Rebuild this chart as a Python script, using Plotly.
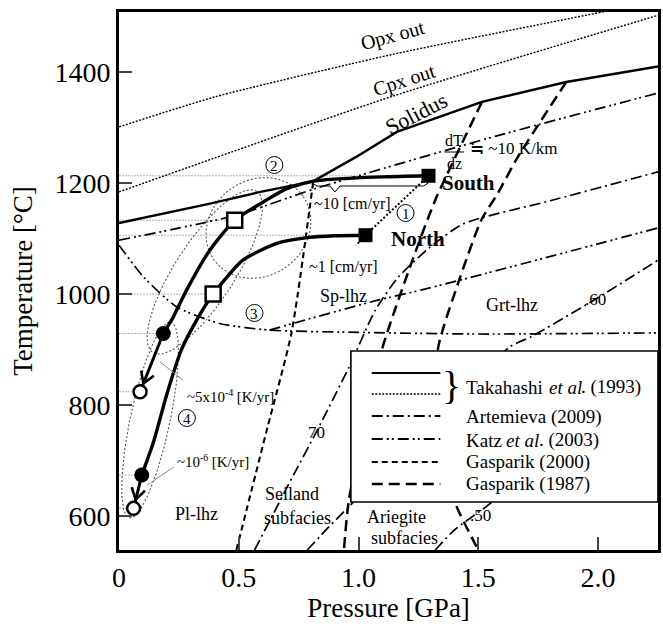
import numpy as np
import plotly.graph_objects as go

# ---------------- data (P in GPa, T in degC) ----------------
opx_P = [0.0, 0.40, 1.135, 2.03]
opx_T = [1301, 1355, 1431, 1509]
cpx_P = [0.0, 1.14, 2.25]
cpx_T = [1184, 1356, 1502]
solidus_P = [0.0, 0.38, 0.59, 0.81, 0.99, 1.16, 1.515, 1.867, 2.25]
solidus_T = [1128, 1163, 1184, 1203, 1247, 1292, 1346, 1382, 1410]

south_P = [1.292, 1.1, 0.9, 0.807, 0.70, 0.614, 0.483, 0.379, 0.282, 0.227, 0.185]
south_T = [1213, 1211, 1207, 1203, 1190, 1169, 1133, 1079, 1007, 959, 929]
north_P = [1.029, 0.9, 0.794, 0.656, 0.517, 0.393, 0.32, 0.26, 0.20, 0.145, 0.095]
north_T = [1106, 1105, 1102, 1091, 1061, 1000, 950, 899, 820, 735, 674]

fill_sq_P = [1.292, 1.029]
fill_sq_T = [1213, 1106]
open_sq_P = [0.483, 0.393]
open_sq_T = [1133, 1000]
fill_ci_P = [0.185, 0.095]
fill_ci_T = [929, 674]
open_ci_P = [0.088, 0.061]
open_ci_T = [824, 614]

# Katz et al. (2003)
katz1_P = [0.0, 0.49, 0.82, 1.57, 2.25]
katz1_T = [1097, 1142, 1190, 1284, 1362]
katz2_P = [0.0, 0.102, 0.24, 0.42, 0.628, 1.0, 1.5, 2.25]
katz2_T = [1088, 1031, 977, 947, 935, 931, 928, 930]
katz3_P = [0.628, 0.75, 1.08, 1.26, 1.53, 2.25]
katz3_T = [935, 950, 989, 1007, 1037, 1119]

# Artemieva (2009) geotherms
g70_P = [0.566, 0.732, 0.823, 0.96, 1.07, 1.167, 1.30, 1.44, 1.8, 2.25]
g70_T = [539, 677, 751, 868, 971, 1031, 1085, 1127, 1168, 1220]
g60_P = [0.786, 0.877, 0.96, 1.632, 1.72, 1.99, 2.25]
g60_T = [539, 581, 617, 905, 923, 991, 1061]
g50_P = [1.32, 1.40, 1.55, 1.9]
g50_T = [539, 575, 623, 760]

# Gasparik (2000) Pl/Sp
gas00_P = [0.49, 0.62, 0.72, 0.81]
gas00_T = [539, 760, 930, 1200]
# Gasparik (1987)
gasc_P = [1.515, 1.32, 1.23, 1.097, 0.96, 0.939]
gasc_T = [1346, 1169, 1067, 899, 630, 539]
gasd_P = [1.867, 1.665, 1.582, 1.512, 1.416, 1.333, 1.32, 1.404, 1.5]
gasd_T = [1382, 1247, 1182, 1133, 1020, 905, 760, 623, 539]

x_ticks = [0, 0.5, 1.0, 1.5, 2.0]
x_tick_text = ["0", "0.5", "1.0", "1.5", "2.0"]
y_ticks = [600, 800, 1000, 1200, 1400]

# ---------------- geometry helpers ----------------
W, H = 663, 628
L, R, TOP, BOT = 118.7, 661.0, 12.0, 550.0
X0, X1 = 0.0, 2.25
Y0, Y1 = 539.0, 1508.0


def dx(px):
    return X0 + (px - L) / (R - L) * (X1 - X0)


def dy(py):
    return Y0 + (BOT - py) / (BOT - TOP) * (Y1 - Y0)


def to_px(P):
    return L + (P - X0) / (X1 - X0) * (R - L)


def to_py(T):
    return BOT - (T - Y0) / (Y1 - Y0) * (BOT - TOP)


def paper_x(px):
    return (px - L) / (R - L)


def paper_y(py):
    return (BOT - py) / (BOT - TOP)


FONT = "Liberation Serif, Times New Roman, serif"
DASHDOT = "11px,4px,2px,4px"
DASHDOTDOT = "11px,4px,2px,3px,2px,4px"
SHORTDASH = "6px,4px"
LONGDASH = "11px,6px"

fig = go.Figure()


def line(P, T, dash="solid", width=1.6, color="black", shape="spline"):
    fig.add_trace(go.Scatter(x=P, y=T, mode="lines",
                             line=dict(color=color, width=width, dash=dash, shape=shape, smoothing=0.6),
                             hoverinfo="skip", showlegend=False))


# reference (gray) horizontal lines to each marker
for P, T in zip(fill_sq_P + open_sq_P + fill_ci_P + open_ci_P, fill_sq_T + open_sq_T + fill_ci_T + open_ci_T):
    line([0, P], [T, T], dash="2px,1px", width=1, color="#b0b0b0", shape="linear")

# ellipses (decorative dotted loops): pixel-space centre, radii, angle
ellipses = [
    (259, 228, 55, 48, -35),
    (205, 272, 96, 30, -57),
    (150, 420, 100, 20, -78),
]
th = np.linspace(0, 2 * np.pi, 120)
for cx, cy, a, b, ang in ellipses:
    r = np.deg2rad(ang)
    ex = cx + a * np.cos(th) * np.cos(r) - b * np.sin(th) * np.sin(r)
    ey = cy + a * np.cos(th) * np.sin(r) + b * np.sin(th) * np.cos(r)
    line([dx(v) for v in ex], [dy(v) for v in ey], dash="2px,2px", width=1.1, color="#555555", shape="linear")

# Takahashi dotted phase boundaries
line(opx_P, opx_T, dash="2px,1.5px", width=1.4)
line(cpx_P, cpx_T, dash="2px,1.5px", width=1.4)
line(solidus_P, solidus_T, width=2.4, shape="linear")

# Katz
line(katz1_P, katz1_T, dash=DASHDOTDOT, width=1.7)
line(katz2_P, katz2_T, dash=DASHDOTDOT, width=1.7)
line(katz3_P, katz3_T, dash=DASHDOTDOT, width=1.7)
# Artemieva
line(g70_P, g70_T, dash=DASHDOT, width=1.7)
line(g60_P, g60_T, dash=DASHDOT, width=1.7)
line(g50_P, g50_T, dash=DASHDOT, width=1.7)
# Gasparik
line(gas00_P, gas00_T, dash=SHORTDASH, width=2.1)
line(gasc_P, gasc_T, dash=LONGDASH, width=2.5)
line(gasd_P, gasd_T, dash=LONGDASH, width=2.5)

# dotted link South -> North (1)
line([fill_sq_P[0], fill_sq_P[1], 0.99], [fill_sq_T[0], fill_sq_T[1], 1088], dash="2px,2px", width=2.0,
     shape="linear")

# paths
line(south_P, south_T, width=3.4)
line(north_P, north_T, width=3.4)
line([fill_ci_P[0], open_ci_P[0]], [fill_ci_T[0], open_ci_T[0]], width=3.0, shape="linear")
line([fill_ci_P[1], open_ci_P[1]], [fill_ci_T[1], open_ci_T[1]], width=3.0, shape="linear")

# markers
fig.add_trace(go.Scatter(x=fill_sq_P, y=fill_sq_T, mode="markers",
                         marker=dict(symbol="square", size=14, color="black"), showlegend=False, hoverinfo="skip"))
fig.add_trace(go.Scatter(x=open_sq_P, y=open_sq_T, mode="markers",
                         marker=dict(symbol="square", size=15, color="white", line=dict(color="black", width=2.5)),
                         showlegend=False, hoverinfo="skip"))
fig.add_trace(go.Scatter(x=fill_ci_P, y=fill_ci_T, mode="markers",
                         marker=dict(symbol="circle", size=15, color="black"), showlegend=False, hoverinfo="skip"))
fig.add_trace(go.Scatter(x=open_ci_P, y=open_ci_T, mode="markers",
                         marker=dict(symbol="circle", size=13, color="white", line=dict(color="black", width=2.5)),
                         showlegend=False, hoverinfo="skip"))

ann = []
shapes = []


def text(px, py, s, size=17, angle=0, weight="normal", style="normal", xanchor="center", ref="data"):
    if ref == "data":
        x, y, xr, yr = dx(px), dy(py), "x", "y"
    else:
        x, y, xr, yr = paper_x(px), paper_y(py), "paper", "paper"
    ann.append(dict(x=x, y=y, xref=xr, yref=yr, text=s, showarrow=False, textangle=angle,
                    xanchor=xanchor, yanchor="middle",
                    font=dict(family=FONT, size=size, color="black", weight=weight, style=style)))


# open V arrowheads pointing at the open circles (geometry from the path ends)
for p0, t0, p1, t1 in zip(fill_ci_P, fill_ci_T, open_ci_P, open_ci_T):
    x0, y0, x1, y1 = to_px(p0), to_py(t0), to_px(p1), to_py(t1)
    ux, uy = (x1 - x0), (y1 - y0)
    n = np.hypot(ux, uy)
    ux, uy = ux / n, uy / n
    tipx, tipy = x1 - 9 * ux, y1 - 9 * uy
    pts = []
    for sgn in (1, -1):
        a = np.deg2rad(32 * sgn)
        pts.append((tipx + 13 * (-ux * np.cos(a) - uy * np.sin(a)), tipy + 13 * (ux * np.sin(a) - uy * np.cos(a))))
    path = (f"M {dx(pts[0][0])},{dy(pts[0][1])} L {dx(tipx)},{dy(tipy)} L {dx(pts[1][0])},{dy(pts[1][1])}")
    shapes.append(dict(type="path", xref="x", yref="y", path=path, line=dict(color="black", width=2.6)))

# circled numbers: small circle + digit
circled = [(407, 213, "1"), (275, 165, "2"), (255, 313, "3"), (187, 418, "4")]
for cx, cy, d in circled:
    shapes.append(dict(type="circle", xref="x", yref="y", xsizemode="pixel", ysizemode="pixel",
                       xanchor=dx(cx), yanchor=dy(cy), x0=-8.5, x1=8.5, y0=-8.5, y1=8.5,
                       line=dict(color="black", width=1), fillcolor="rgba(0,0,0,0)"))
    text(cx, cy + 0.5, d, 15)

text(394, 35, "Opx out", 20, -15)
text(405, 80, "Cpx out", 20, -18)
text(418, 113, "Solidus", 22, -27)
text(456, 140, "dT", 16)
text(456, 163, "dz", 16)
text(470, 148, "≒ ~10 K/km", 17, xanchor="left")
text(470, 183, "South", 21, weight="bold")
text(420, 239, "North", 21, weight="bold")
text(354, 204, "~10 [cm/yr]", 16)
text(345, 267, "~1 [cm/yr]", 16)
text(345, 296, "Sp-lhz", 18)
text(514, 305, "Grt-lhz", 18)
text(598, 299, ".60", 17)
text(317, 432, "70", 17)
text(482, 515, ".50", 17)
# ~5x10^-4 [K/yr]  (pieces laid out left to right)
text(185, 397, "~5x10", 15, xanchor="left")
text(223.5, 392, "-4", 10, xanchor="left")
text(231.5, 397, " [K/yr]", 15, xanchor="left")
# ~10^-6 [K/yr]
text(175, 462, "~10", 15, xanchor="left")
text(198, 457, "-6", 10, xanchor="left")
text(206, 462, " [K/yr]", 15, xanchor="left")
text(197, 514, "Pl-lhz", 18)
text(293, 494, "Seiland", 18)
text(298, 518, "subfacies", 18)
text(398, 517, "Ariegite", 18)
text(406, 538, "subfacies", 18)

# dT/dz fraction bar
shapes.append(dict(type="line", xref="x", yref="y", x0=dx(446), x1=dx(466), y0=dy(152), y1=dy(152),
                   line=dict(color="black", width=1)))
# brace under South path
brace_px = [313, 318, 331, 336, 341, 425, 430]
brace_py = [183, 186, 186, 192, 186, 186, 183]
path = "M " + " L ".join(f"{dx(a)},{dy(b)}" for a, b in zip(brace_px, brace_py))
shapes.append(dict(type="path", xref="x", yref="y", path=path, line=dict(color="black", width=1)))
# leader lines
shapes.append(dict(type="line", xref="x", yref="y", x0=dx(160), y0=dy(362), x1=dx(183), y1=dy(380),
                   line=dict(color="#888888", width=1)))
shapes.append(dict(type="line", xref="x", yref="y", x0=dx(147), y0=dy(485), x1=dx(174), y1=dy(467),
                   line=dict(color="#888888", width=1)))

# legend box
shapes.append(dict(type="rect", xref="paper", yref="paper", x0=paper_x(352), x1=paper_x(661), y0=paper_y(502),
                   y1=paper_y(351), fillcolor="white", line=dict(color="black", width=1.6), layer="above"))
leg_rows = [373, 394, 416, 439, 462, 484]
leg_dash = ["solid", "2px,1.5px", DASHDOT, DASHDOTDOT, SHORTDASH, LONGDASH]
leg_w = [2.0, 1.3, 1.8, 1.8, 2.0, 2.6]
for yy, dsh, lw in zip(leg_rows, leg_dash, leg_w):
    shapes.append(dict(type="line", xref="paper", yref="paper", x0=paper_x(373), x1=paper_x(442),
                       y0=paper_y(yy), y1=paper_y(yy), line=dict(color="black", width=lw, dash=dsh), layer="above"))
LS = 19
text(466, 387, "Takahashi", LS, xanchor="left", ref="paper")
text(549, 387, "et al", LS, style="italic", xanchor="left", ref="paper")
text(582, 387, ". (1993)", LS, xanchor="left", ref="paper")
text(466, 417, "Artemieva (2009)", LS, xanchor="left", ref="paper")
text(466, 440, "Katz", LS, xanchor="left", ref="paper")
text(506.5, 440, "et al", LS, style="italic", xanchor="left", ref="paper")
text(539.5, 440, ". (2003)", LS, xanchor="left", ref="paper")
text(466, 462, "Gasparik (2000)", LS, xanchor="left", ref="paper")
text(466, 484, "Gasparik (1987)", LS, xanchor="left", ref="paper")
text(453, 385, "}", 40, ref="paper")

fig.update_layout(
    width=W, height=H, margin=dict(l=L, r=W - R, t=TOP, b=H - BOT),
    paper_bgcolor="white", plot_bgcolor="white", showlegend=False,
    annotations=ann, shapes=shapes,
    xaxis=dict(range=[X0, X1], tickvals=x_ticks, ticktext=x_tick_text, ticks="inside", ticklen=13, tickwidth=2,
               showline=True, linewidth=3, linecolor="black", mirror=True, showgrid=False, zeroline=False,
               tickfont=dict(family=FONT, size=28, color="black"),
               title=dict(text="Pressure [GPa]", font=dict(family=FONT, size=27, color="black"), standoff=6)),
    yaxis=dict(range=[Y0, Y1], tickvals=y_ticks, ticks="inside", ticklen=13, tickwidth=2,
               showline=True, linewidth=3, linecolor="black", mirror=True, showgrid=False, zeroline=False,
               tickfont=dict(family=FONT, size=28, color="black"),
               title=dict(text="Temperature [°C]", font=dict(family=FONT, size=27, color="black"), standoff=14)),
)

fig.write_html("out.html")
